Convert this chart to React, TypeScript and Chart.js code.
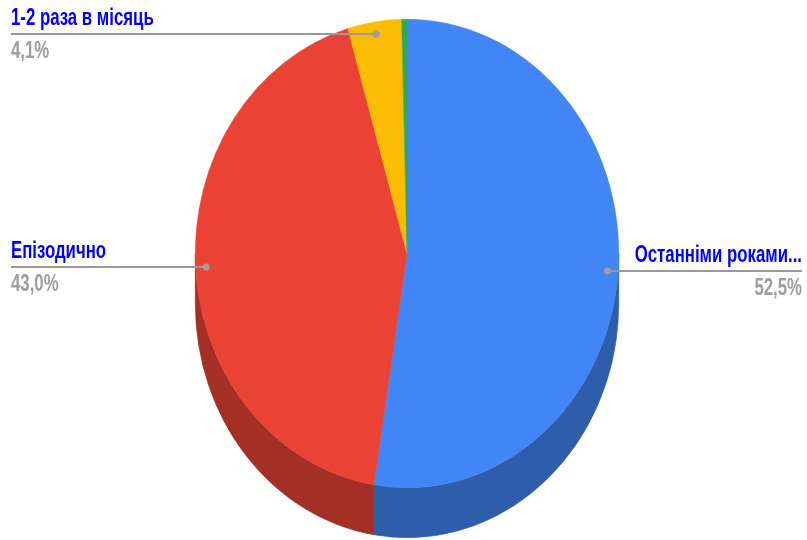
import React, { useEffect, useRef } from "react";
import { Chart, registerables } from "chart.js";

Chart.register(...registerables);

// ---- data ----
const categories = ["Останніми роками...", "Епізодично", "1-2 раза в місяць", "Інше"];
const values = [52.5, 43.0, 4.1, 0.4];
const percentLabels = ["52,5%", "43,0%", "4,1%", "0,4%"];
const showLabel = [true, true, true, false];
const colors = ["#4285f4", "#ea4335", "#fbbc04", "#34a853"];
const sideColors = ["#2e5dab", "#a42f25", "#b08403", "#247639"];

// ---- style constants ----
const SY = 234.5 / 212; // vertical stretch of top face
const DEPTH = 50; // 3D depth in px
const TEXT_SX = 0.73; // horizontal compression of text
const FONT = "bold 23px 'Liberation Sans', Arial, sans-serif";

const pie3d = {
  id: "pie3d",
  beforeDatasetsDraw(chart: any) {
    const ctx = chart.ctx as CanvasRenderingContext2D;
    const arcs = chart.getDatasetMeta(0).data as any[];
    if (!arcs.length) return;
    const cx = arcs[0].x, cy = arcs[0].y;
    const rx = arcs[0].outerRadius, ry = rx * SY;
    ctx.save();
    arcs.forEach((arc, i) => {
      const s = arc.startAngle, e = arc.endAngle;
      for (const base of [-2 * Math.PI, 0, 2 * Math.PI]) {
        const b1 = Math.max(s, base);
        const b2 = Math.min(e, base + Math.PI);
        if (b2 > b1) {
          ctx.beginPath();
          ctx.ellipse(cx, cy, rx, ry, 0, b1, b2, false);
          ctx.ellipse(cx, cy + DEPTH, rx, ry, 0, b2, b1, true);
          ctx.closePath();
          ctx.fillStyle = sideColors[i];
          ctx.fill();
          ctx.strokeStyle = sideColors[i];
          ctx.lineWidth = 0.6;
          ctx.stroke();
        }
      }
    });
    ctx.translate(cx, cy);
    ctx.scale(1, SY);
    ctx.translate(-cx, -cy);
  },
  afterDatasetsDraw(chart: any) {
    const ctx = chart.ctx as CanvasRenderingContext2D;
    ctx.restore();
    const arcs = chart.getDatasetMeta(0).data as any[];
    if (!arcs.length) return;
    const cx = arcs[0].x, cy = arcs[0].y;
    const rx = arcs[0].outerRadius, ry = rx * SY;
    const W = chart.width;
    arcs.forEach((arc, i) => {
      if (!showLabel[i]) return;
      const mid = (arc.startAngle + arc.endAngle) / 2;
      const dx = cx + 0.95 * rx * Math.cos(mid);
      const dy = Math.round(cy + 0.95 * ry * Math.sin(mid));
      const left = Math.cos(mid) < 0;
      const x0 = left ? 11 : dx;
      const x1 = left ? dx : W - 5;
      ctx.save();
      ctx.strokeStyle = "#999999";
      ctx.lineWidth = 2;
      ctx.beginPath();
      ctx.moveTo(x0, dy);
      ctx.lineTo(x1, dy);
      ctx.stroke();
      ctx.fillStyle = "#9e9e9e";
      ctx.beginPath();
      ctx.arc(dx, dy, 3.5, 0, Math.PI * 2);
      ctx.fill();
      ctx.font = FONT;
      ctx.textBaseline = "alphabetic";
      const tx = left ? 11 : W - 5;
      ctx.textAlign = left ? "left" : "right";
      ctx.save();
      ctx.translate(tx, dy - 9);
      ctx.scale(TEXT_SX, 1);
      ctx.fillStyle = "#0000ff";
      ctx.fillText(categories[i], 0, 0);
      ctx.restore();
      ctx.save();
      ctx.translate(tx, dy + 24);
      ctx.scale(TEXT_SX, 1);
      ctx.fillStyle = "#9e9e9e";
      ctx.fillText(percentLabels[i], 0, 0);
      ctx.restore();
      ctx.restore();
    });
  },
};

export default function App() {
  const ref = useRef<HTMLCanvasElement | null>(null);
  useEffect(() => {
    if (!ref.current) return;
    const chart = new Chart(ref.current, {
      type: "pie",
      data: {
        labels: categories,
        datasets: [
          {
            data: values,
            backgroundColor: colors,
            borderColor: colors,
            borderWidth: 0.5,
            clip: false,
          } as any,
        ],
      },
      options: {
        responsive: false,
        animation: false,
        devicePixelRatio: 1,
        layout: { padding: { left: 195, right: 188, top: 41.5, bottom: 74.5 } },
        plugins: { legend: { display: false }, tooltip: { enabled: false } },
      },
      plugins: [pie3d],
    });
    return () => chart.destroy();
  }, []);
  return (
    <div style={{ position: "absolute", left: 0, top: 0, width: 807, height: 540, background: "#fff" }}>
      <canvas ref={ref} width={807} height={540} />
    </div>
  );
}
